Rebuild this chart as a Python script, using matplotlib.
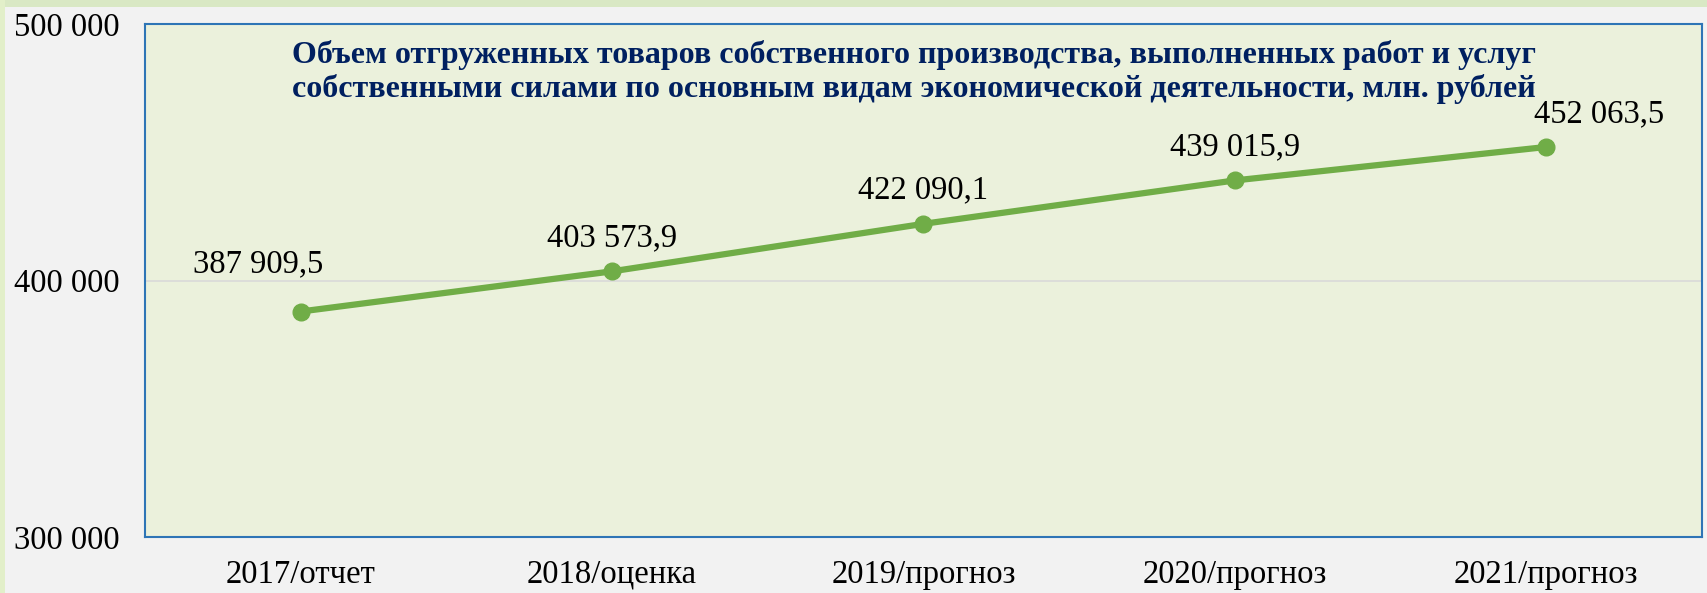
import matplotlib.pyplot as plt
from matplotlib.patches import Rectangle

# данные графика
categories = ['2017/отчет', '2018/оценка', '2019/прогноз', '2020/прогноз', '2021/прогноз']
values = [387909.5, 403573.9, 422090.1, 439015.9, 452063.5]
value_labels = ['387 909,5', '403 573,9', '422 090,1', '439 015,9', '452 063,5']
ytick_values = [300000, 400000, 500000]
ytick_labels = ['300 000', '400 000', '500 000']
title = ('Объем отгруженных товаров собственного производства, выполненных работ и услуг\n'
         'собственными силами по основным видам экономической деятельности, млн. рублей')

plt.rcParams['font.family'] = ['Liberation Serif', 'DejaVu Serif']

fig = plt.figure(figsize=(17.08, 5.93), dpi=100, facecolor='#f2f2f2')
# рамка слайда сверху и слева
fig.patches.append(Rectangle((0, 0.988), 1, 0.012, transform=fig.transFigure,
                             facecolor='#d9e8c4', edgecolor='none', zorder=0))
fig.patches.append(Rectangle((0, 0), 0.003, 1, transform=fig.transFigure,
                             facecolor='#e2efc9', edgecolor='none', zorder=0))

ax = fig.add_axes([145 / 1708, 56 / 593, 1557 / 1708, 513 / 593])
ax.set_facecolor('#ebf1dc')
for s in ax.spines.values():
    s.set_color('#2e75b6')
    s.set_linewidth(1.5)

x = list(range(len(categories)))
ax.plot(x, values, color='#70ad47', linewidth=4.5, marker='o', markersize=12,
        solid_capstyle='round', zorder=3)

# подписи значений
offsets = [(-31, 34), (0, 24), (0, 24), (0, 24), (38, 24)]
for xi, v, lab, off in zip(x, values, value_labels, offsets):
    ax.annotate(lab, (xi, v), xytext=off, textcoords='offset points',
                ha='center', va='center', fontsize=23.5, color='black')

ax.set_xlim(-0.5, len(categories) - 0.5)
ax.set_ylim(300000, 500000)
ax.set_yticks(ytick_values)
ax.set_yticklabels(ytick_labels, fontsize=23.5, ha='left')
ax.tick_params(axis='y', length=0, pad=94)
ax.set_xticks(x)
ax.set_xticklabels(categories, fontsize=23.5)
ax.tick_params(axis='x', length=0, pad=16)
ax.yaxis.grid(True, color='#d9d9d9', linewidth=1.2)
ax.set_axisbelow(True)

ax.text(0.494, 1 - 16 / 513, title, transform=ax.transAxes, ha='center', va='top',
        fontsize=23, fontweight='bold', color='#002060', linespacing=1.17)

plt.savefig('out.png', dpi=100, facecolor=fig.get_facecolor())
